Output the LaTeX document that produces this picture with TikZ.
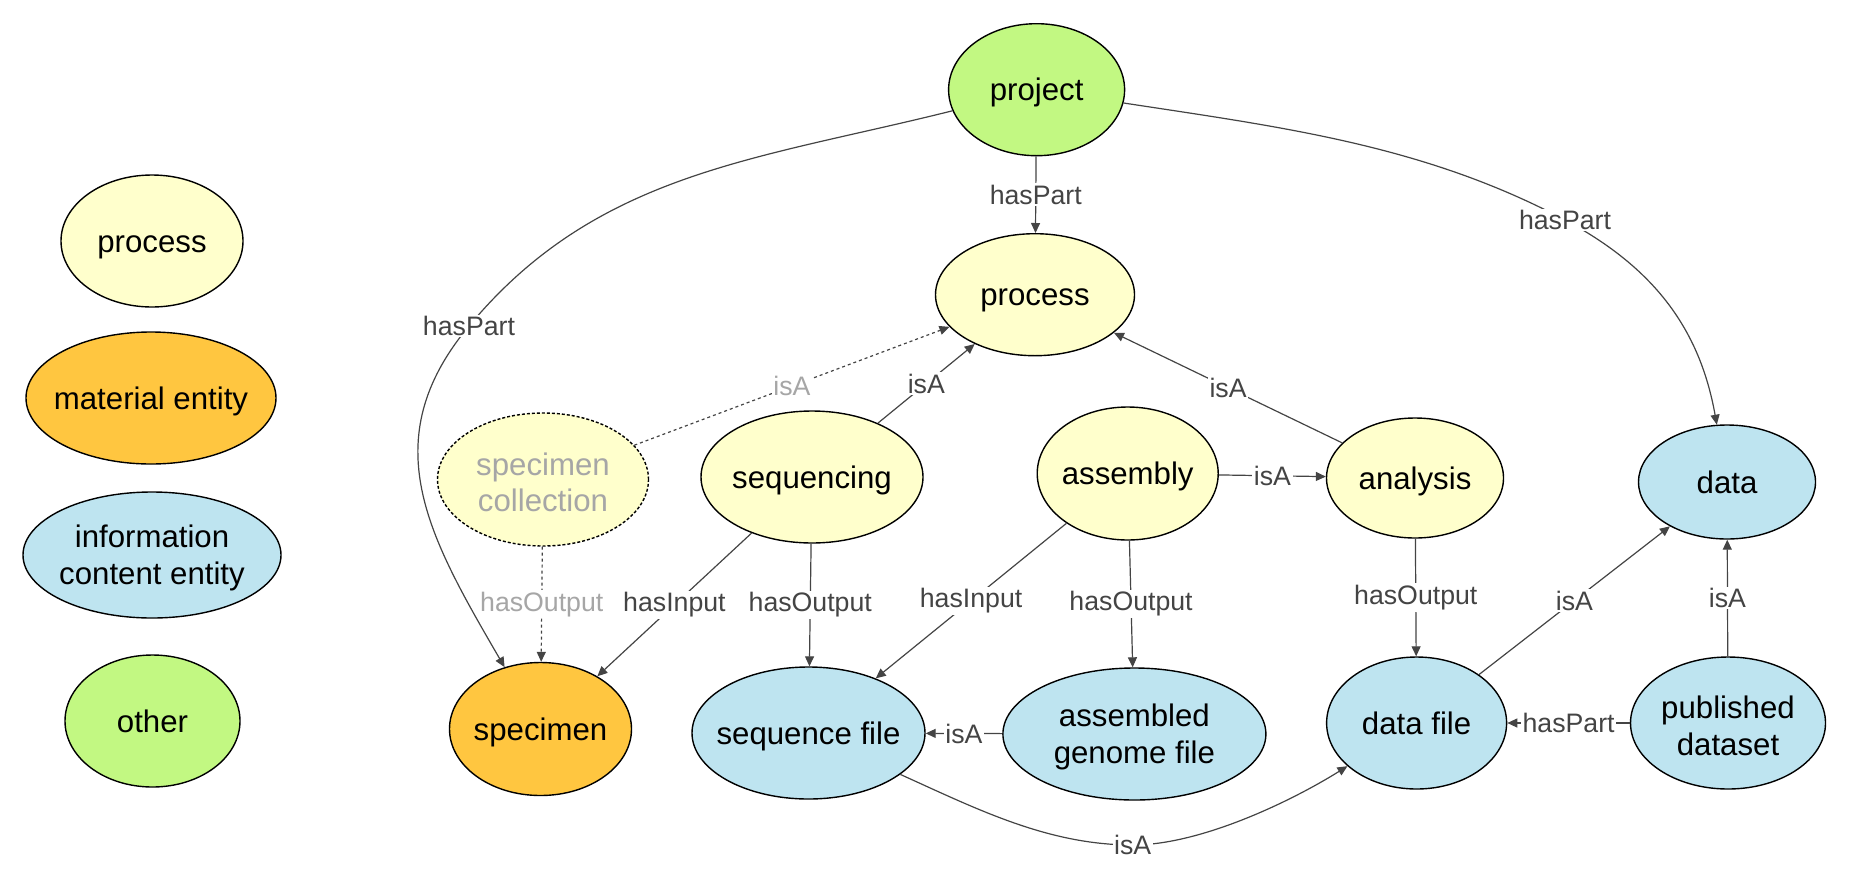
\documentclass[tikz,border=0pt]{standalone}
\usepackage{fontspec}
\setmainfont{Liberation Sans}
\usetikzlibrary{shapes.geometric,arrows.meta}
\definecolor{cyel}{RGB}{255,255,204}
\definecolor{corg}{RGB}{255,198,64}
\definecolor{cblu}{RGB}{190,228,240}
\definecolor{cgrn}{RGB}{194,248,130}
\definecolor{ecol}{RGB}{68,68,68}
\definecolor{gtxt}{RGB}{166,166,166}
\tikzset{
  ell/.style={ellipse, draw=black, line width=0.7pt, inner sep=0pt},
  sz/.style 2 args={minimum width=#1*0.5pt, minimum height=#2*0.5pt},
  txt/.style={align=center, inner sep=0pt, font=\fontsize{15.6}{18.3}\selectfont},
  txt1/.style={txt, text height=11pt, text depth=0pt},
  txt2/.style={txt, yshift=-1.5pt},
  edge/.style={draw=ecol, line width=0.6pt, -{Triangle[length=5pt,width=4.5pt]}},
  lbl/.style={fill=white, inner sep=0.8pt, text=ecol, font=\fontsize{13.35}{15}\selectfont},
  glbl/.style={lbl, text=gtxt},
  dsh/.style={dash pattern=on 1.5pt off 1.5pt},
}
\begin{document}
\begin{tikzpicture}[x=0.5pt,y=-0.5pt]
\useasboundingbox (0,0) rectangle (1851,884);
% legend
\node[ell, fill=cyel, sz={182}{132}] (lproc) at (152,241) {};
\node[txt1] (tlproc) at (lproc) {process};
\node[ell, fill=corg, sz={250}{132}] (lmat) at (151,398) {};
\node[txt1] (tlmat) at (lmat) {material entity};
\node[ell, fill=cblu, sz={258}{126}] (linfo) at (152,555) {};
\node[txt2] (tlinfo) at (linfo) {information\\content entity};
\node[ell, fill=cgrn, sz={175}{132}] (loth) at (152.5,721) {};
\node[txt1] (tloth) at (loth) {other};
% main nodes
\node[ell, fill=cgrn, sz={176}{132}] (proj) at (1036.6,89.7) {};
\node[txt1] (tproj) at (proj) {project};
\node[ell, fill=cyel, sz={199}{122}] (proc) at (1035,294.7) {};
\node[txt1] (tproc) at (proc) {process};
\node[ell, fill=cyel, sz={211}{133}, dash pattern=on 1.5pt off 1pt] (spcol) at (543,479.5) {};
\node[txt2, text=gtxt] (tspcol) at (spcol) {specimen\\collection};
\node[ell, fill=cyel, sz={222}{132}] (seq) at (812,477) {};
\node[txt1] (tseq) at (seq) {sequencing};
\node[ell, fill=cyel, sz={181}{133}] (asm) at (1127.7,473.5) {};
\node[txt1] (tasm) at (asm) {assembly};
\node[ell, fill=cyel, sz={177}{120}] (ana) at (1415,478) {};
\node[txt1] (tana) at (ana) {analysis};
\node[ell, fill=cblu, sz={177}{114}] (data) at (1727,482) {};
\node[txt1] (tdata) at (data) {data};
\node[ell, fill=corg, sz={182}{133}] (spec) at (540.5,729) {};
\node[txt1] (tspec) at (spec) {specimen};
\node[ell, fill=cblu, sz={233}{132}] (sqf) at (808.5,733) {};
\node[txt1] (tsqf) at (sqf) {sequence file};
\node[ell, fill=cblu, sz={263}{132}] (agf) at (1134.4,734) {};
\node[txt2] (tagf) at (agf) {assembled\\genome file};
\node[ell, fill=cblu, sz={180}{132}] (df) at (1416.6,723) {};
\node[txt1] (tdf) at (df) {data file};
\node[ell, fill=cblu, sz={195}{132}] (pub) at (1728,723) {};
\node[txt2] (tpub) at (pub) {published\\dataset};
% straight edges
\draw[edge] (proj) -- node[lbl]{hasPart} (proc);
\draw[edge, dsh] (spcol) -- node[glbl]{isA} (proc);
\draw[edge] (seq) -- node[lbl]{isA} (proc);
\draw[edge] (ana) -- node[lbl]{isA} (proc);
\draw[edge] (asm) -- node[lbl]{isA} (ana);
\draw[edge, dsh] (spcol) -- node[glbl]{hasOutput} (spec);
\draw[edge] (seq) -- node[lbl]{hasInput} (spec);
\draw[edge] (seq) -- node[lbl]{hasOutput} (sqf);
\draw[edge] (asm) -- node[lbl]{hasInput} (sqf);
\draw[edge] (asm) -- node[lbl]{hasOutput} (agf);
\draw[edge] (agf) -- node[lbl]{isA} (sqf);
\draw[edge] (ana) -- node[lbl]{hasOutput} (df);
\draw[edge] (df) -- node[lbl]{isA} (data);
\draw[edge] (pub) -- node[lbl]{isA} (data);
\draw[edge] (pub) -- node[lbl]{hasPart} (df);
% curved edges
\coordinate (m1) at (469,326);
\draw[edge] (proj) .. controls (756,160) and (597,172) .. (m1) .. controls (373,441) and (429,537) .. (spec);
\node[lbl] (l1) at (m1) {hasPart};
\coordinate (m2) at (1565,220);
\draw[edge] (proj) .. controls (1282.6,127.3) and (1424,145) .. (m2) .. controls (1653,267) and (1699.6,328) .. (data);
\node[lbl] (l2) at (m2) {hasPart};
\coordinate (m3) at (1132.7,845);
\draw[edge] (sqf) .. controls (977,809) and (1047.7,845) .. (m3) .. controls (1200,845) and (1290,802) .. (df);
\node[lbl] (l3) at (m3) {isA};
\end{tikzpicture}
\end{document}
